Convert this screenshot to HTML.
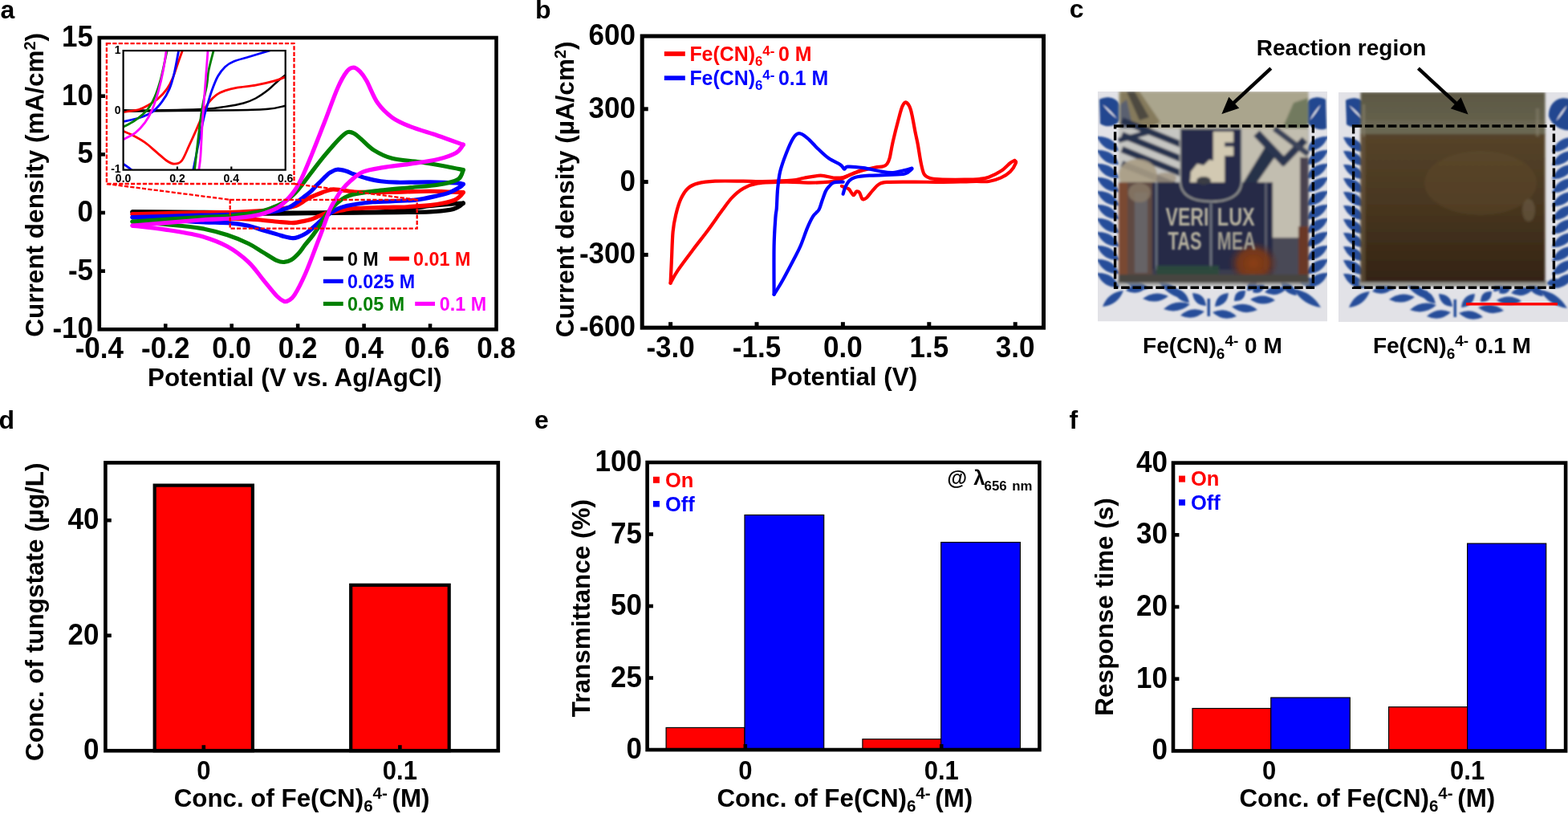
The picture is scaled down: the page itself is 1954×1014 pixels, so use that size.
<!DOCTYPE html>
<html><head><meta charset="utf-8"><title>Figure</title>
<style>html,body{margin:0;padding:0;background:#fff;}svg{display:block;}</style></head>
<body><svg width="1954" height="1014" viewBox="0 0 1954 1014" font-family="'Liberation Sans', sans-serif" font-weight="bold">
<rect x="0" y="0" width="1954" height="1014" fill="#fff"/>
<text x="0.6" y="22.7" font-size="32" text-anchor="start" fill="#000" >a</text>
<text x="667" y="22.9" font-size="32" text-anchor="start" fill="#000" >b</text>
<text x="1332.7" y="22.4" font-size="32" text-anchor="start" fill="#000" >c</text>
<text x="-1.6" y="533.9" font-size="32" text-anchor="start" fill="#000" >d</text>
<text x="666" y="534.2" font-size="32" text-anchor="start" fill="#000" >e</text>
<text x="1332.5" y="533.7" font-size="32" text-anchor="start" fill="#000" >f</text>
<line x1="206.25" y1="410.3" x2="206.25" y2="403.3" stroke="#000" stroke-width="4.6" />
<line x1="288.7" y1="410.3" x2="288.7" y2="403.3" stroke="#000" stroke-width="4.6" />
<line x1="371.15" y1="410.3" x2="371.15" y2="403.3" stroke="#000" stroke-width="4.6" />
<line x1="453.6" y1="410.3" x2="453.6" y2="403.3" stroke="#000" stroke-width="4.6" />
<line x1="536.05" y1="410.3" x2="536.05" y2="403.3" stroke="#000" stroke-width="4.6" />
<line x1="123.8" y1="119.68" x2="131" y2="119.68" stroke="#000" stroke-width="4.6" />
<line x1="123.8" y1="192.34" x2="131" y2="192.34" stroke="#000" stroke-width="4.6" />
<line x1="123.8" y1="265" x2="131" y2="265" stroke="#000" stroke-width="4.6" />
<line x1="123.8" y1="337.66" x2="131" y2="337.66" stroke="#000" stroke-width="4.6" />
<text x="123.8" y="446.3" font-size="37.8" text-anchor="middle" textLength="60.31" lengthAdjust="spacingAndGlyphs">-0.4</text>
<text x="206.25" y="446.3" font-size="37.8" text-anchor="middle" textLength="60.31" lengthAdjust="spacingAndGlyphs">-0.2</text>
<text x="288.7" y="446.3" font-size="37.8" text-anchor="middle" textLength="48.66" lengthAdjust="spacingAndGlyphs">0.0</text>
<text x="371.15" y="446.3" font-size="37.8" text-anchor="middle" textLength="48.66" lengthAdjust="spacingAndGlyphs">0.2</text>
<text x="453.6" y="446.3" font-size="37.8" text-anchor="middle" textLength="48.66" lengthAdjust="spacingAndGlyphs">0.4</text>
<text x="536.05" y="446.3" font-size="37.8" text-anchor="middle" textLength="48.66" lengthAdjust="spacingAndGlyphs">0.6</text>
<text x="618.5" y="446.3" font-size="37.8" text-anchor="middle" textLength="48.66" lengthAdjust="spacingAndGlyphs">0.8</text>
<text x="116" y="58.02" font-size="37.8" text-anchor="end" textLength="38.93" lengthAdjust="spacingAndGlyphs">15</text>
<text x="116" y="130.68" font-size="37.8" text-anchor="end" textLength="38.93" lengthAdjust="spacingAndGlyphs">10</text>
<text x="116" y="203.34" font-size="37.8" text-anchor="end" textLength="19.47" lengthAdjust="spacingAndGlyphs">5</text>
<text x="116" y="276" font-size="37.8" text-anchor="end" textLength="19.47" lengthAdjust="spacingAndGlyphs">0</text>
<text x="116" y="348.66" font-size="37.8" text-anchor="end" textLength="31.12" lengthAdjust="spacingAndGlyphs">-5</text>
<text x="116" y="421.32" font-size="37.8" text-anchor="end" textLength="50.59" lengthAdjust="spacingAndGlyphs">-10</text>
<text x="367.4" y="480.7" font-size="31.4" text-anchor="middle" fill="#000" >Potential (V vs. Ag/AgCl)</text>
<text transform="translate(54.1,230.3) rotate(-90)" font-size="31.5" text-anchor="middle">Current density (mA/cm<tspan font-size="20" dy="-10">2</tspan><tspan dy="10">)</tspan></text>
<path d="M165.02,263.84 C178.77,263.91 219.99,264.08 247.47,264.27 C274.96,264.47 309.31,264.85 329.93,265 C350.54,265.15 353.97,265.22 371.15,265.15 C388.33,265.07 415.81,264.78 432.99,264.56 C450.16,264.35 463.91,264.18 474.21,263.84 C484.52,263.5 487.27,263.35 494.82,262.53 C502.38,261.71 512.69,259.91 519.56,258.9 C526.43,257.88 529.87,257.15 536.05,256.43 C542.23,255.7 549.79,255.09 556.66,254.54 C563.53,253.98 573.84,253.33 577.27,253.08" fill="none" stroke="#000" stroke-width="5.2" stroke-linejoin="round" stroke-linecap="round" />
<path d="M577.27,253.08 C576.24,253.86 573.84,256.35 571.09,257.73 C568.34,259.11 566.63,260.35 560.79,261.37 C554.94,262.38 547.04,263.3 536.05,263.84 C525.06,264.37 515.44,264.32 494.82,264.56 C474.21,264.81 439.86,265.02 412.38,265.29 C384.89,265.56 357.41,266.21 329.93,266.16 C302.44,266.11 274.96,265.34 247.47,265 C219.99,264.66 178.77,264.27 165.02,264.13" fill="none" stroke="#000" stroke-width="5.2" stroke-linejoin="round" stroke-linecap="round" />
<path d="M165.02,266.74 C179.18,266.43 229.82,265.22 249.95,264.85 C270.08,264.49 273.86,264.9 285.81,264.56 C297.77,264.22 313.37,263.28 321.68,262.82 C329.99,262.36 330.47,262.31 335.7,261.8 C340.92,261.29 347.45,260.69 353.01,259.77 C358.58,258.85 364.97,257.71 369.09,256.28 C373.21,254.85 374.86,252.91 377.75,251.19 C380.63,249.47 382.42,247.88 386.4,245.96 C390.39,244.05 397.19,241.36 401.66,239.71 C406.12,238.07 409.28,236.57 413.2,236.08 C417.12,235.6 420.69,236.35 425.15,236.81 C429.62,237.27 435.46,238.41 440,238.84 C444.53,239.28 444.26,239.35 452.36,239.42 C460.47,239.5 474.69,239.47 488.64,239.28 C502.59,239.08 521.28,238.19 536.05,238.26 C550.82,238.33 570.4,239.47 577.27,239.71" fill="none" stroke="#ff0000" stroke-width="5.2" stroke-linejoin="round" stroke-linecap="round" />
<path d="M577.27,239.71 C576.59,240.54 574.87,243.11 573.15,244.66 C571.43,246.21 570.4,247.61 566.97,249.01 C563.53,250.42 557.69,251.97 552.54,253.08 C547.39,254.2 543.61,254.92 536.05,255.7 C528.49,256.47 516.95,257.27 507.19,257.73 C497.44,258.19 488.71,258.12 477.51,258.46 C466.31,258.8 448.03,259.28 440,259.77 C431.96,260.25 433.06,260.71 429.28,261.37 C425.5,262.02 421.03,263.04 417.32,263.69 C413.61,264.35 410.31,264.37 407.02,265.29 C403.72,266.21 401.04,267.79 397.53,269.21 C394.03,270.64 390.59,272.56 385.99,273.86 C381.39,275.17 373.9,276.46 369.91,277.06 C365.93,277.67 365.38,277.57 362.08,277.5 C358.78,277.42 356.86,277.26 350.13,276.63 C343.39,276 329.86,274.4 321.68,273.72 C313.5,273.04 310,272.8 301.07,272.56 C292.14,272.31 280.45,272.68 268.09,272.27 C255.72,271.85 244.04,270.98 226.86,270.09 C209.69,269.19 175.33,267.42 165.02,266.89" fill="none" stroke="#ff0000" stroke-width="5.2" stroke-linejoin="round" stroke-linecap="round" />
<path d="M165.02,270.67 C179.18,270.26 229.82,268.73 249.95,268.2 C270.08,267.66 273.86,267.88 285.81,267.47 C297.77,267.06 311.92,266.48 321.68,265.73 C331.44,264.98 337.96,264.2 344.35,262.97 C350.74,261.73 355.9,260.03 360.02,258.32 C364.14,256.6 366.13,254.71 369.09,252.65 C372.04,250.59 374.79,248.26 377.75,245.96 C380.7,243.66 384.14,241.24 386.82,238.84 C389.5,236.44 391.63,233.8 393.82,231.58 C396.02,229.35 398.01,227.46 400.01,225.47 C402,223.49 403.86,221.43 405.78,219.66 C407.7,217.89 409.15,216.27 411.55,214.86 C413.96,213.46 416.98,211.55 420.21,211.23 C423.44,210.92 427.42,212.01 430.93,212.98 C434.43,213.94 436.9,215.52 441.23,217.04 C445.56,218.57 451.4,220.68 456.9,222.13 C462.39,223.58 467.89,224.92 474.21,225.76 C480.53,226.61 484.52,227.02 494.82,227.22 C505.13,227.41 523.68,226.81 536.05,226.93 C548.42,227.05 562.16,227.53 569.03,227.94 C575.9,228.36 575.9,229.15 577.27,229.4" fill="none" stroke="#0000ff" stroke-width="5.2" stroke-linejoin="round" stroke-linecap="round" />
<path d="M577.27,229.4 C576.59,230 575.9,231.33 573.15,233.03 C570.4,234.72 565.18,237.83 560.79,239.57 C556.39,241.31 554.33,241.87 546.77,243.49 C539.21,245.12 529.18,247.92 515.44,249.31 C501.7,250.69 476.89,250.83 464.32,251.78 C451.74,252.72 445.42,254.17 440,254.97 C434.57,255.77 434.84,255.77 431.75,256.57 C428.66,257.37 424.74,258.32 421.44,259.77 C418.15,261.22 414.99,263.33 411.96,265.29 C408.94,267.25 406.33,269.04 403.31,271.54 C400.28,274.03 397.4,277.11 393.82,280.26 C390.25,283.41 385.65,287.89 381.87,290.43 C378.09,292.97 373.97,294.48 371.15,295.52 C368.33,296.56 367.71,296.8 364.97,296.68 C362.22,296.56 357.96,295.59 354.66,294.79 C351.36,293.99 349.71,293.24 345.18,291.88 C340.64,290.53 333.36,288.42 327.45,286.65 C321.54,284.88 316.53,282.75 309.72,281.28 C302.92,279.8 296.6,278.56 286.64,277.79 C276.68,277.01 263.35,277.3 249.95,276.63 C236.55,275.95 220.4,274.71 206.25,273.72 C192.1,272.73 171.9,271.18 165.02,270.67" fill="none" stroke="#0000ff" stroke-width="5.2" stroke-linejoin="round" stroke-linecap="round" />
<path d="M165.02,276.04 C179.18,275.15 229.82,271.81 249.95,270.67 C270.08,269.53 273.86,270.3 285.81,269.21 C297.77,268.12 312.95,265.8 321.68,264.13 C330.41,262.46 333.02,261.1 338.17,259.19 C343.32,257.27 348.13,255.31 352.6,252.65 C357.06,249.98 361.19,246.71 364.97,243.2 C368.75,239.69 369.78,238.48 375.27,231.58 C380.77,224.67 391.14,210.34 397.95,201.79 C404.75,193.24 411.28,185.73 416.09,180.28 C420.89,174.83 423.85,171.73 426.8,169.09 C429.76,166.45 431.41,164.92 433.81,164.44 C436.22,163.95 438.48,164.68 441.23,166.18 C443.98,167.68 446.18,169.96 450.3,173.45 C454.42,176.94 459.58,183.14 465.97,187.11 C472.36,191.08 479.16,194.83 488.64,197.28 C498.12,199.73 511.52,200.09 522.86,201.79 C534.19,203.48 547.59,205.81 556.66,207.45 C565.73,209.1 573.84,210.97 577.27,211.67" fill="none" stroke="#008000" stroke-width="5.2" stroke-linejoin="round" stroke-linecap="round" />
<path d="M577.27,211.67 C576.18,213.63 575.97,220.34 570.68,223.44 C565.39,226.54 555.43,228.57 545.53,230.27 C535.64,231.96 524.58,232.3 511.31,233.61 C498.05,234.92 477.85,236.66 465.97,238.12 C454.08,239.57 446.11,240.97 440,242.33 C433.88,243.69 432.37,244.68 429.28,246.25 C426.19,247.83 423.99,249.67 421.44,251.78 C418.9,253.88 416.43,256.4 414.02,258.9 C411.62,261.39 409.35,263.45 407.02,266.74 C404.68,270.04 402.89,274.23 400.01,278.66 C397.12,283.09 393,288.95 389.7,293.34 C386.4,297.72 383.17,301.21 380.22,304.96 C377.27,308.72 374.86,312.71 371.97,315.86 C369.09,319.01 365.86,322.09 362.9,323.85 C359.95,325.62 357.2,326.33 354.25,326.47 C351.29,326.62 349.64,326.79 345.18,324.73 C340.71,322.67 333.36,317.65 327.45,314.12 C321.54,310.58 317.08,307.07 309.72,303.51 C302.37,299.95 293.3,295.95 283.34,292.76 C273.38,289.56 262.8,286.53 249.95,284.33 C237.1,282.12 220.4,280.91 206.25,279.53 C192.1,278.15 171.9,276.63 165.02,276.04" fill="none" stroke="#008000" stroke-width="5.2" stroke-linejoin="round" stroke-linecap="round" />
<path d="M165.02,281.13 C179.18,279.94 229.82,275.49 249.95,274.01 C270.08,272.53 275.23,273.04 285.81,272.27 C296.4,271.49 306.08,270.5 313.44,269.36 C320.79,268.22 324.15,267.42 329.93,265.44 C335.7,263.45 342.36,261.44 348.06,257.44 C353.77,253.45 359.61,247.13 364.14,241.46 C368.68,235.79 371.15,231.75 375.27,223.44 C379.39,215.13 383.93,203.72 388.88,191.61 C393.82,179.5 399.66,164.39 404.95,150.78 C410.25,137.17 416.09,120.21 420.62,109.94 C425.15,99.67 428.87,93.47 432.16,89.16 C435.46,84.85 437.66,84.08 440.41,84.08 C443.16,84.08 445.9,86.38 448.65,89.16 C451.4,91.95 453.26,94.3 456.9,100.79 C460.54,107.28 465.21,120.53 470.5,128.11 C475.79,135.69 481.84,141.36 488.64,146.27 C495.44,151.19 501.83,153.83 511.31,157.61 C520.8,161.39 534.54,165.17 545.53,168.94 C556.53,172.72 571.98,178.39 577.27,180.28" fill="none" stroke="#ff00ff" stroke-width="5.2" stroke-linejoin="round" stroke-linecap="round" />
<path d="M577.27,180.28 C575.76,181.97 573.5,187.42 568.21,190.45 C562.91,193.48 555.01,196.17 545.53,198.44 C536.05,200.72 522.65,202.42 511.31,204.11 C499.98,205.81 487.34,206.94 477.51,208.62 C467.69,210.29 459.1,211.4 452.36,214.14 C445.63,216.87 441.64,221.14 437.11,225.04 C432.58,228.94 428.18,233.85 425.15,237.53 C422.13,241.22 421.1,243.69 418.97,247.13 C416.84,250.56 414.23,254.49 412.38,258.17 C410.52,261.85 409.63,264.47 407.84,269.21 C406.05,273.96 403.86,280.69 401.66,286.65 C399.46,292.61 398.15,295.95 394.65,304.96 C391.14,313.97 385.24,330.3 380.63,340.71 C376.03,351.13 370.53,361.86 367.03,367.45 C363.52,373.05 361.74,372.95 359.61,374.28 C357.48,375.61 356.65,376.32 354.25,375.44 C351.84,374.57 349.64,373.65 345.18,369.05 C340.71,364.45 333.36,354.93 327.45,347.83 C321.54,340.74 317.08,333.28 309.72,326.47 C302.37,319.66 293.3,312.4 283.34,307 C273.38,301.6 262.8,297.55 249.95,294.06 C237.1,290.58 220.4,288.23 206.25,286.07 C192.1,283.92 171.9,281.95 165.02,281.13" fill="none" stroke="#ff00ff" stroke-width="5.2" stroke-linejoin="round" stroke-linecap="round" />
<line x1="402.9" y1="322.2" x2="427.7" y2="322.2" stroke="#000" stroke-width="5.1"/>
<text x="432.9" y="330.6" font-size="23.3" fill="#000">0 M</text>
<line x1="485.1" y1="322.2" x2="509.9" y2="322.2" stroke="#ff0000" stroke-width="5.1"/>
<text x="515.1" y="330.6" font-size="23.3" fill="#ff0000">0.01 M</text>
<line x1="402.9" y1="350.3" x2="427.7" y2="350.3" stroke="#0000ff" stroke-width="5.1"/>
<text x="432.9" y="358.7" font-size="23.3" fill="#0000ff">0.025 M</text>
<line x1="402.9" y1="378.4" x2="427.7" y2="378.4" stroke="#008000" stroke-width="5.1"/>
<text x="432.9" y="386.8" font-size="23.3" fill="#008000">0.05 M</text>
<line x1="517.2" y1="378.4" x2="542" y2="378.4" stroke="#ff00ff" stroke-width="5.1"/>
<text x="547.8" y="386.8" font-size="23.3" fill="#ff00ff">0.1 M</text>
<rect x="286.7" y="248.8" width="233" height="35.9" fill="none" stroke="#ff0000" stroke-width="2.3" stroke-dasharray="5.2 2.2"/>
<line x1="132.9" y1="229" x2="286.7" y2="248.8" stroke="#ff0000" stroke-width="2.3" stroke-dasharray="5.2 2.2"/>
<line x1="366.5" y1="229" x2="519.7" y2="248.8" stroke="#ff0000" stroke-width="2.3" stroke-dasharray="5.2 2.2"/>
<rect x="132.9" y="54.1" width="233.6" height="174.9" fill="#fff" stroke="#ff0000" stroke-width="2.3" stroke-dasharray="5.2 2.2"/>
<clipPath id="ic"><rect x="153.6" y="63.1" width="202.1" height="148.5"/></clipPath>
<g clip-path="url(#ic)">
<path d="M153.6,137.35 C162.02,137.35 187.06,137.6 204.12,137.35 C221.18,137.1 243.24,136.61 255.99,135.86 C268.73,135.12 272.66,134.13 280.57,132.89 C288.49,131.66 297.13,130.17 303.48,128.44 C309.82,126.71 313.52,125.22 318.63,122.5 C323.74,119.78 329.52,115.69 334.12,112.1 C338.73,108.52 342.66,104.06 346.25,100.97 C349.84,97.87 352.99,95.65 355.68,93.54 C358.37,91.44 361.29,89.21 362.42,88.34" fill="none" stroke="#000" stroke-width="2.5" stroke-linejoin="round" stroke-linecap="round" />
<path d="M153.6,138.84 C164.83,138.71 197.27,138.34 220.96,138.09 C244.65,137.84 276.87,137.72 295.73,137.35 C314.59,136.98 324.13,136.79 334.12,135.86 C344.12,134.94 350.96,132.65 355.68,131.78 C360.4,130.91 361.29,130.85 362.42,130.67" fill="none" stroke="#000" stroke-width="2.5" stroke-linejoin="round" stroke-linecap="round" />
<path d="M150.23,140.32 C150.79,140.2 149.84,140.2 153.6,139.58 C157.36,138.96 167.52,138.09 172.8,136.61 C178.07,135.12 181.16,133.02 185.26,130.67 C189.36,128.32 193.57,125.84 197.38,122.5 C201.2,119.16 205.13,114.95 208.16,110.62 C211.19,106.29 213.27,101.96 215.57,96.51 C217.87,91.07 220.01,83.52 221.97,77.95 C223.94,72.38 226.12,66.56 227.36,63.1 C228.59,59.63 229.04,58.15 229.38,57.16" fill="none" stroke="#ff0000" stroke-width="2.8" stroke-linejoin="round" stroke-linecap="round" />
<path d="M362.42,92.8 C361.29,93.29 359.16,94.41 355.68,95.77 C352.2,97.13 347.71,99.23 341.53,100.97 C335.36,102.7 326.27,104.8 318.63,106.16 C311,107.53 302.07,108.02 295.73,109.13 C289.39,110.25 284.9,111.36 280.57,112.85 C276.25,114.33 273.11,115.69 269.8,118.04 C266.48,120.4 263.23,123.86 260.7,126.95 C258.18,130.05 255.76,134.5 254.64,136.61 C253.52,138.71 255.59,135.49 253.97,139.58 C252.34,143.66 247.96,154.06 244.87,161.11 C241.79,168.16 238.53,175.34 235.44,181.9 C232.36,188.46 229.38,196.75 226.35,200.46 C223.32,204.17 220.29,204.18 217.26,204.18 C214.22,204.18 211.75,202.81 208.16,200.46 C204.57,198.11 200.3,193.9 195.7,190.07 C191.1,186.23 185.6,181.03 180.54,177.44 C175.49,173.86 169.88,170.89 165.39,168.53 C160.9,166.18 156.13,164.45 153.6,163.34 C151.07,162.22 150.79,162.1 150.23,161.85" fill="none" stroke="#ff0000" stroke-width="2.8" stroke-linejoin="round" stroke-linecap="round" />
<path d="M150.23,152.2 C150.79,152.08 149.84,152.32 153.6,151.46 C157.36,150.59 166.79,148.98 172.8,147 C178.8,145.02 184.81,142.92 189.64,139.58 C194.47,136.24 198.17,131.78 201.76,126.95 C205.35,122.13 208.61,116.68 211.19,110.62 C213.77,104.56 215.35,98.49 217.26,90.57 C219.16,82.65 221.47,68.67 222.64,63.1 C223.82,57.53 224.05,58.15 224.33,57.16" fill="none" stroke="#0000ff" stroke-width="2.8" stroke-linejoin="round" stroke-linecap="round" />
<path d="M348.94,58.64 C346.7,59.39 341.76,61.12 335.47,63.1 C329.19,65.08 318.58,68.3 311.22,70.52 C303.87,72.75 296.46,74.36 291.35,76.47 C286.24,78.57 283.89,80.05 280.57,83.15 C277.26,86.24 274.29,89.95 271.48,95.03 C268.67,100.1 266.04,107.15 263.73,113.59 C261.43,120.02 259.47,127.33 257.67,133.64 C255.87,139.95 255.76,138.46 252.96,151.46 C250.15,164.45 243.08,200.59 240.83,211.6 C238.59,222.61 239.71,216.55 239.48,217.54" fill="none" stroke="#0000ff" stroke-width="2.8" stroke-linejoin="round" stroke-linecap="round" />
<path d="M167.07,217.54 C166.51,216.55 165.95,213.83 163.7,211.6 C161.46,209.37 155.85,205.66 153.6,204.18 C151.35,202.69 150.79,202.94 150.23,202.69" fill="none" stroke="#0000ff" stroke-width="2.8" stroke-linejoin="round" stroke-linecap="round" />
<path d="M150.23,159.62 C150.79,159.38 150.57,159.75 153.6,158.14 C156.63,156.53 163.42,153.56 168.42,149.97 C173.42,146.38 179.53,141.43 183.58,136.61 C187.62,131.78 189.86,127.45 192.67,121.01 C195.48,114.58 197.83,107.65 200.42,98 C203,88.34 206.65,69.91 208.16,63.1 C209.68,56.29 209.28,58.15 209.51,57.16" fill="none" stroke="#008000" stroke-width="2.8" stroke-linejoin="round" stroke-linecap="round" />
<path d="M267.44,57.16 C267.21,58.15 267.33,58.03 266.09,63.1 C264.86,68.17 261.43,80.42 260.03,87.6 C258.63,94.78 259.19,97.25 257.67,106.16 C256.16,115.07 253.46,123.49 250.94,141.06 C248.41,158.63 244.03,198.85 242.52,211.6 C241,224.35 241.95,216.55 241.84,217.54" fill="none" stroke="#008000" stroke-width="2.8" stroke-linejoin="round" stroke-linecap="round" />
<path d="M150.23,175.22 C150.79,174.97 150.57,175.34 153.6,173.73 C156.63,172.12 163.93,169.03 168.42,165.56 C172.91,162.1 177.01,157.77 180.54,152.94 C184.08,148.12 186.83,143.17 189.64,136.61 C192.44,130.05 195.08,121.76 197.38,113.59 C199.69,105.42 201.82,96.02 203.45,87.6 C205.07,79.19 206.42,68.17 207.15,63.1 C207.88,58.03 207.71,58.15 207.82,57.16" fill="none" stroke="#ff00ff" stroke-width="2.8" stroke-linejoin="round" stroke-linecap="round" />
<path d="M259.69,57.16 C259.58,58.15 259.86,52.46 259.02,63.1 C258.18,73.74 255.76,106.29 254.64,121.01 C253.52,135.74 253.07,139.21 252.28,151.46 C251.5,163.71 250.65,184.5 249.92,194.52 C249.2,204.55 248.3,207.76 247.9,211.6 C247.51,215.44 247.62,216.55 247.57,217.54" fill="none" stroke="#ff00ff" stroke-width="2.8" stroke-linejoin="round" stroke-linecap="round" />
</g>
<rect x="153.6" y="63.1" width="202.1" height="148.5" fill="none" stroke="#000" stroke-width="2.2"/>
<line x1="220.96" y1="211.6" x2="220.96" y2="207.5" stroke="#000" stroke-width="2.2"/>
<line x1="288.32" y1="211.6" x2="288.32" y2="207.5" stroke="#000" stroke-width="2.2"/>
<line x1="153.6" y1="137.35" x2="157.5" y2="137.35" stroke="#000" stroke-width="2.2"/>
<text x="153.6" y="226.8" font-size="14" text-anchor="middle">0.0</text>
<text x="220.96" y="226.8" font-size="14" text-anchor="middle">0.2</text>
<text x="288.32" y="226.8" font-size="14" text-anchor="middle">0.4</text>
<text x="355.68" y="226.8" font-size="14" text-anchor="middle">0.6</text>
<text x="150.6" y="67" font-size="14" text-anchor="end">1</text>
<text x="150.6" y="142" font-size="14" text-anchor="end">0</text>
<text x="150.6" y="215.3" font-size="14" text-anchor="end">-1</text>
<rect x="123.8" y="47" width="494.7" height="363.3" fill="none" stroke="#000" stroke-width="4.6" />
<line x1="835.6" y1="408.2" x2="835.6" y2="401.2" stroke="#000" stroke-width="5" />
<line x1="943" y1="408.2" x2="943" y2="401.2" stroke="#000" stroke-width="5" />
<line x1="1050.4" y1="408.2" x2="1050.4" y2="401.2" stroke="#000" stroke-width="5" />
<line x1="1157.8" y1="408.2" x2="1157.8" y2="401.2" stroke="#000" stroke-width="5" />
<line x1="1265.2" y1="408.2" x2="1265.2" y2="401.2" stroke="#000" stroke-width="5" />
<line x1="800.2" y1="135.8" x2="807.7" y2="135.8" stroke="#000" stroke-width="5" />
<line x1="800.2" y1="226.6" x2="807.7" y2="226.6" stroke="#000" stroke-width="5" />
<line x1="800.2" y1="317.4" x2="807.7" y2="317.4" stroke="#000" stroke-width="5" />
<text x="835.6" y="444.9" font-size="37.8" text-anchor="middle" textLength="60.31" lengthAdjust="spacingAndGlyphs">-3.0</text>
<text x="943" y="444.9" font-size="37.8" text-anchor="middle" textLength="60.31" lengthAdjust="spacingAndGlyphs">-1.5</text>
<text x="1050.4" y="444.9" font-size="37.8" text-anchor="middle" textLength="48.66" lengthAdjust="spacingAndGlyphs">0.0</text>
<text x="1157.8" y="444.9" font-size="37.8" text-anchor="middle" textLength="48.66" lengthAdjust="spacingAndGlyphs">1.5</text>
<text x="1265.2" y="444.9" font-size="37.8" text-anchor="middle" textLength="48.66" lengthAdjust="spacingAndGlyphs">3.0</text>
<text x="792" y="56" font-size="37.8" text-anchor="end" textLength="58.4" lengthAdjust="spacingAndGlyphs">600</text>
<text x="792" y="146.8" font-size="37.8" text-anchor="end" textLength="58.4" lengthAdjust="spacingAndGlyphs">300</text>
<text x="792" y="237.6" font-size="37.8" text-anchor="end" textLength="19.47" lengthAdjust="spacingAndGlyphs">0</text>
<text x="792" y="328.4" font-size="37.8" text-anchor="end" textLength="70.05" lengthAdjust="spacingAndGlyphs">-300</text>
<text x="792" y="419.2" font-size="37.8" text-anchor="end" textLength="70.05" lengthAdjust="spacingAndGlyphs">-600</text>
<text x="1051.6" y="480.3" font-size="31.4" text-anchor="middle" fill="#000" >Potential (V)</text>
<text transform="translate(714.7,235.9) rotate(-90)" font-size="31.5" text-anchor="middle">Current density (µA/cm<tspan font-size="20" dy="-10">2</tspan><tspan dy="10">)</tspan></text>
<line x1="827.8" y1="67" x2="853.8" y2="67" stroke="#f00" stroke-width="5.7" />
<line x1="827.8" y1="97.2" x2="853.8" y2="97.2" stroke="#00f" stroke-width="5.7" />
<text x="859.4" y="75.8" font-size="24.9" fill="#f00">Fe(CN)<tspan font-size="16.8" dy="5.9">6</tspan><tspan font-size="16.8" dy="-12.8">4- </tspan><tspan dy="6.9">0 M</tspan></text>
<text x="859.4" y="105.9" font-size="24.9" fill="#00f">Fe(CN)<tspan font-size="16.8" dy="5.9">6</tspan><tspan font-size="16.8" dy="-12.8">4- </tspan><tspan dy="6.9">0.1 M</tspan></text>
<path d="M1048.9,231.9 C1049.58,232.17 1051.52,232.9 1053,233.5 C1054.48,234.1 1056.47,234.42 1057.8,235.5 C1059.13,236.58 1059.98,238.72 1061,240 C1062.02,241.28 1062.92,243.42 1063.9,243.2 C1064.88,242.98 1066.05,239.48 1066.9,238.7 C1067.75,237.92 1068.27,238.25 1069,238.5 C1069.73,238.75 1070.42,238.68 1071.3,240.2 C1072.18,241.72 1073.35,246.3 1074.3,247.6 C1075.25,248.9 1076.02,248.25 1077,248 C1077.98,247.75 1078.43,247.9 1080.2,246.1 C1081.97,244.3 1085.13,239.92 1087.6,237.2 C1090.07,234.48 1092.05,231.52 1095,229.8 C1097.95,228.08 1097.8,227.43 1105.3,226.9 C1112.8,226.37 1129.22,226.6 1140,226.6 C1150.78,226.6 1160,226.93 1170,226.9 C1180,226.87 1192.22,226.57 1200,226.4 C1207.78,226.23 1211.35,225.97 1216.7,225.9 C1222.05,225.83 1226.98,226.75 1232.1,226 C1237.22,225.25 1242.92,223.43 1247.4,221.4 C1251.88,219.37 1255.92,216.87 1259,213.8 C1262.08,210.73 1265.02,205.3 1265.9,203 C1266.78,200.7 1264.57,200.5 1264.3,200" fill="none" stroke="#ff0000" stroke-width="4.2" stroke-linejoin="round" stroke-linecap="round" />
<path d="M1264.3,200 C1263.42,200.5 1261.82,200.83 1259,203 C1256.18,205.17 1251.88,210.05 1247.4,213 C1242.92,215.95 1236.57,219.03 1232.1,220.7 C1227.63,222.37 1225.72,222.5 1220.6,223 C1215.48,223.5 1209.72,223.63 1201.4,223.7 C1193.08,223.77 1177.98,223.78 1170.7,223.4 C1163.42,223.02 1160.9,222.5 1157.7,221.4 C1154.5,220.3 1153.17,219.87 1151.5,216.8 C1149.83,213.73 1148.98,209.13 1147.7,203 C1146.42,196.87 1144.93,186.13 1143.8,180 C1142.67,173.87 1142.38,173.43 1140.9,166.2 C1139.42,158.97 1136.88,143.05 1134.9,136.6 C1132.92,130.15 1130.72,128.23 1129,127.5 C1127.28,126.77 1126.08,128.95 1124.6,132.2 C1123.12,135.45 1122.08,139.6 1120.1,147 C1118.12,154.4 1114.62,168.27 1112.7,176.6 C1110.78,184.93 1109.82,192.4 1108.6,197 C1107.38,201.6 1106.75,202.48 1105.4,204.2 C1104.05,205.92 1102.97,206.57 1100.5,207.3 C1098.03,208.03 1094.72,207.8 1090.6,208.6 C1086.48,209.4 1080.5,210.78 1075.8,212.1 C1071.1,213.42 1066.6,215.02 1062.4,216.5 C1058.2,217.98 1054.53,220.17 1050.6,221 C1046.67,221.83 1043.48,221.88 1038.8,221.5 C1034.12,221.12 1028.67,218.67 1022.5,218.7 C1016.33,218.73 1007.72,220.7 1001.8,221.7 C995.88,222.7 995.63,223.97 987,224.7 C978.37,225.43 960.08,225.93 950,226.1 C939.92,226.27 936.33,225.77 926.5,225.7 C916.67,225.63 900.47,225.25 891,225.7 C881.53,226.15 875.32,226.92 869.7,228.4 C864.08,229.88 860.85,231.35 857.3,234.6 C853.75,237.85 850.92,242.43 848.4,247.9 C845.88,253.37 843.83,260.6 842.2,267.4 C840.57,274.2 839.48,279.23 838.6,288.7 C837.72,298.17 837.4,313.55 836.9,324.2 C836.4,334.85 835.82,347.87 835.6,352.6" fill="none" stroke="#ff0000" stroke-width="4.2" stroke-linejoin="round" stroke-linecap="round" />
<path d="M835.6,352.6 C837.13,349.93 840,343.7 844.8,336.6 C849.6,329.5 858.18,318.27 864.4,310 C870.62,301.73 876.18,294.98 882.1,287 C888.02,279.02 894.87,268.92 899.9,262.1 C904.93,255.28 907.87,250.68 912.3,246.1 C916.73,241.52 921.18,237.55 926.5,234.6 C931.82,231.65 935.33,229.73 944.2,228.4 C953.07,227.07 968.87,226.73 979.7,226.6 C990.53,226.47 1000.33,227.6 1009.2,227.6 C1018.07,227.6 1026.73,227.22 1032.9,226.6 C1039.07,225.98 1041.75,225.38 1046.2,223.9 C1050.65,222.42 1055.3,219.62 1059.6,217.7 C1063.9,215.78 1069.93,213.28 1072,212.4" fill="none" stroke="#ff0000" stroke-width="4.2" stroke-linejoin="round" stroke-linecap="round" />
<path d="M1050.6,241.7 C1050.83,240.92 1051.5,238.48 1052,237 C1052.5,235.52 1052.6,234.73 1053.6,232.8 C1054.6,230.87 1056.03,227.37 1058,225.4 C1059.97,223.43 1061.2,222.12 1065.4,221 C1069.6,219.88 1076.55,219.2 1083.2,218.7 C1089.85,218.2 1097.92,218.37 1105.3,218 C1112.68,217.63 1122.32,217.73 1127.5,216.5 C1132.68,215.27 1134.92,211.58 1136.4,210.6" fill="none" stroke="#0000ff" stroke-width="4.2" stroke-linejoin="round" stroke-linecap="round" />
<path d="M1136.4,209.6 C1134.92,210.02 1131.45,211.2 1127.5,212.1 C1123.55,213 1117.62,214.75 1112.7,215 C1107.78,215.25 1104.15,214.58 1098,213.6 C1091.85,212.62 1082.72,210.1 1075.8,209.1 C1068.88,208.1 1060.45,207.35 1056.5,207.6 C1052.55,207.85 1053.58,210.97 1052.1,210.6 C1050.62,210.23 1050.8,207.62 1047.6,205.4 C1044.4,203.18 1037.58,200.62 1032.9,197.3 C1028.22,193.98 1023.95,189.7 1019.5,185.5 C1015.05,181.3 1010.13,175.32 1006.2,172.1 C1002.27,168.88 998.85,166.2 995.9,166.2 C992.95,166.2 991.22,167.9 988.5,172.1 C985.78,176.3 982.32,184.48 979.6,191.4 C976.88,198.32 973.95,206.25 972.2,213.6 C970.45,220.95 969.83,227.87 969.1,235.5 C968.37,243.13 968.25,253.48 967.8,259.4 C967.35,265.32 966.93,263.15 966.4,271 C965.87,278.85 964.9,290.53 964.6,306.5 C964.3,322.47 964.6,356.75 964.6,366.8" fill="none" stroke="#0000ff" stroke-width="4.2" stroke-linejoin="round" stroke-linecap="round" />
<path d="M964.6,366.8 C966.23,364.13 970.4,357.9 974.4,350.8 C978.4,343.7 984.75,331.58 988.6,324.2 C992.45,316.82 994.55,313.3 997.5,306.5 C1000.45,299.7 1003.65,289.62 1006.3,283.4 C1008.95,277.18 1011.03,272.9 1013.4,269.2 C1015.77,265.5 1018.65,264.4 1020.5,261.2 C1022.35,258 1023.08,253.87 1024.5,250 C1025.92,246.13 1027.58,240.92 1029,238 C1030.42,235.08 1031.37,234.25 1033,232.5 C1034.63,230.75 1035.85,228.48 1038.8,227.5 C1041.75,226.52 1048.72,226.75 1050.7,226.6" fill="none" stroke="#0000ff" stroke-width="4.2" stroke-linejoin="round" stroke-linecap="round" />
<rect x="800.2" y="45" width="500.3" height="363.2" fill="none" stroke="#000" stroke-width="5" />
<filter id="bl1" x="-5%" y="-5%" width="110%" height="110%"><feGaussianBlur stdDeviation="1.1"/></filter>
<filter id="bl2" x="-2%" y="-2%" width="104%" height="104%"><feGaussianBlur stdDeviation="1.5"/></filter>
<filter id="bl3" x="-5%" y="-5%" width="110%" height="110%"><feGaussianBlur stdDeviation="1.0"/></filter>
<clipPath id="p1c"><rect x="1368" y="114" width="286" height="286.5"/></clipPath>
<g clip-path="url(#p1c)">
<rect x="1368" y="114" width="286" height="286.5" fill="#e2e2e7"/>
<g filter="url(#bl1)">
<path d="M1374,382 Q1393.1,379.93 1400,362 Q1380.9,364.07 1374,382Z" fill="#284e9a"/>
<path d="M1403,362 Q1418.32,369.33 1430,357 Q1414.68,349.67 1403,362Z" fill="#284e9a"/>
<path d="M1424,372 Q1440.93,380.46 1456,369 Q1439.07,360.54 1424,372Z" fill="#284e9a"/>
<path d="M1450,385 Q1468.29,391.84 1483,379 Q1464.71,372.16 1450,385Z" fill="#284e9a"/>
<path d="M1462,359 Q1465.31,375.43 1482,377 Q1478.69,360.57 1462,359Z" fill="#284e9a"/>
<path d="M1471,393 Q1487.64,400.36 1501,388 Q1484.36,380.64 1471,393Z" fill="#284e9a"/>
<path d="M1486,365 Q1487.65,380.28 1503,381 Q1501.35,365.72 1486,365Z" fill="#284e9a"/>
<path d="M1514,382 Q1529.57,380.57 1531,365 Q1515.43,366.43 1514,382Z" fill="#284e9a"/>
<path d="M1511,389 Q1524.36,401.36 1541,394 Q1527.64,381.64 1511,389Z" fill="#284e9a"/>
<path d="M1535,382 Q1549.76,393.92 1567,386 Q1552.24,374.08 1535,382Z" fill="#284e9a"/>
<path d="M1538,375 Q1551.8,375.83 1552,362 Q1538.2,361.17 1538,375Z" fill="#284e9a"/>
<path d="M1558,373 Q1573.18,383.49 1589,374 Q1573.82,363.51 1558,373Z" fill="#284e9a"/>
<path d="M1561,364 Q1573.64,368.07 1576,355 Q1563.36,350.93 1561,364Z" fill="#284e9a"/>
<path d="M1612,360 Q1623.4,379.78 1646,383 Q1634.6,363.22 1612,360Z" fill="#284e9a"/>
<path d="M1576,364 Q1590.97,371.89 1603,360 Q1588.03,352.11 1576,364Z" fill="#284e9a"/>
<path d="M1596,350 Q1599.31,366.43 1616,368 Q1612.69,351.57 1596,350Z" fill="#284e9a"/>
<path d="M1443,349 Q1454.07,368.94 1476.6,372.5 Q1465.53,352.56 1443,349Z" fill="#284e9a"/>
<path d="M1405,352 Q1415.48,365.29 1431.3,359.3 Q1420.82,346.01 1405,352Z" fill="#284e9a"/>
<path d="M1397.6,349.1 Q1411.89,357.59 1424,346.2 Q1409.71,337.71 1397.6,349.1Z" fill="#284e9a"/>
<path d="M1554.2,362.3 Q1567.53,362.33 1565.9,349.1 Q1552.57,349.07 1554.2,362.3Z" fill="#284e9a"/>
<path d="M1620,352 Q1631,360.95 1640,350 Q1629,341.05 1620,352Z" fill="#284e9a"/>
<rect x="1504.5" y="372" width="3.5" height="22" fill="#284e9a"/>
<path d="M1370,124 C1384,116 1400,126 1399,144 C1394,158 1378,160 1371,154Z" fill="#224690"/>
<path d="M1374,130 Q1381.3,140.7 1392,148 Q1384.7,137.3 1374,130Z" fill="#d8dce6"/>
<path d="M1395,188 Q1387.49,168.91 1367,170 Q1374.51,189.09 1395,188Z" fill="#284e9a"/>
<path d="M1395,205 Q1387.49,185.91 1367,187 Q1374.51,206.09 1395,205Z" fill="#284e9a"/>
<path d="M1395,222 Q1387.49,202.91 1367,204 Q1374.51,223.09 1395,222Z" fill="#284e9a"/>
<path d="M1395,239 Q1387.49,219.91 1367,221 Q1374.51,240.09 1395,239Z" fill="#284e9a"/>
<path d="M1395,256 Q1387.49,236.91 1367,238 Q1374.51,257.09 1395,256Z" fill="#284e9a"/>
<path d="M1395,273 Q1387.49,253.91 1367,255 Q1374.51,274.09 1395,273Z" fill="#284e9a"/>
<path d="M1395,290 Q1387.49,270.91 1367,272 Q1374.51,291.09 1395,290Z" fill="#284e9a"/>
<path d="M1395,307 Q1387.49,287.91 1367,289 Q1374.51,308.09 1395,307Z" fill="#284e9a"/>
<path d="M1395,324 Q1387.49,304.91 1367,306 Q1374.51,325.09 1395,324Z" fill="#284e9a"/>
<path d="M1395,341 Q1387.49,321.91 1367,323 Q1374.51,342.09 1395,341Z" fill="#284e9a"/>
<path d="M1395,358 Q1387.49,338.91 1367,340 Q1374.51,359.09 1395,358Z" fill="#284e9a"/>
<path d="M1652,124 C1638,116 1622,126 1623,144 C1628,158 1644,164 1653,160Z" fill="#224690"/>
<path d="M1646,130 Q1637.03,138.62 1632,150 Q1640.97,141.38 1646,130Z" fill="#d8dce6"/>
<path d="M1627,188 Q1647.49,189.09 1655,170 Q1634.51,168.91 1627,188Z" fill="#284e9a"/>
<path d="M1627,205 Q1647.49,206.09 1655,187 Q1634.51,185.91 1627,205Z" fill="#284e9a"/>
<path d="M1627,222 Q1647.49,223.09 1655,204 Q1634.51,202.91 1627,222Z" fill="#284e9a"/>
<path d="M1627,239 Q1647.49,240.09 1655,221 Q1634.51,219.91 1627,239Z" fill="#284e9a"/>
<path d="M1627,256 Q1647.49,257.09 1655,238 Q1634.51,236.91 1627,256Z" fill="#284e9a"/>
<path d="M1627,273 Q1647.49,274.09 1655,255 Q1634.51,253.91 1627,273Z" fill="#284e9a"/>
<path d="M1627,290 Q1647.49,291.09 1655,272 Q1634.51,270.91 1627,290Z" fill="#284e9a"/>
<path d="M1627,307 Q1647.49,308.09 1655,289 Q1634.51,287.91 1627,307Z" fill="#284e9a"/>
<path d="M1627,324 Q1647.49,325.09 1655,306 Q1634.51,304.91 1627,324Z" fill="#284e9a"/>
<path d="M1627,341 Q1647.49,342.09 1655,323 Q1634.51,321.91 1627,341Z" fill="#284e9a"/>
<path d="M1627,358 Q1647.49,359.09 1655,340 Q1634.51,338.91 1627,358Z" fill="#284e9a"/>
</g>
<g filter="url(#bl2)">
<rect x="1392" y="349" width="240.5" height="7" fill="#8c8c88" opacity="0.7"/>
<rect x="1394" y="114" width="236.5" height="48" fill="#aaa58d"/>
<path d="M1396,114 L1420,114 L1446,152 L1432,160 L1396,160Z" fill="#857a5c"/>
<path d="M1404,114 L1414,114 L1432,146 L1420,150Z" fill="#4e4a40"/>
<path d="M1396,130 L1404,124 L1412,160 L1396,160Z" fill="#5a6070"/>
<path d="M1598,160 L1612,128 L1630,122 L1630,162Z" fill="#727a5e"/>
<rect x="1394" y="160" width="236.5" height="192" fill="#3a3e50"/>
<rect x="1394" y="160" width="78" height="68" fill="#c6c6c2"/>
<line x1="1398" y1="150" x2="1472" y2="180" stroke="#26304e" stroke-width="8"/>
<line x1="1398" y1="168" x2="1472" y2="198" stroke="#26304e" stroke-width="8"/>
<line x1="1398" y1="186" x2="1472" y2="216" stroke="#26304e" stroke-width="8"/>
<line x1="1398" y1="204" x2="1472" y2="234" stroke="#26304e" stroke-width="8"/>
<line x1="1394" y1="175" x2="1430" y2="165" stroke="#26304e" stroke-width="6"/>
<ellipse cx="1418" cy="218" rx="24" ry="20" fill="#a89c84" opacity="0.9"/>
<ellipse cx="1452" cy="222" rx="14" ry="7" fill="#a09480" opacity="0.8"/>
<rect x="1547" y="160" width="83.5" height="140" fill="#c2beb0"/>
<path d="M1549,228 L1566,228 L1594,188 L1579,179Z" fill="#283048"/>
<line x1="1566" y1="166" x2="1602" y2="204" stroke="#2c3450" stroke-width="10"/>
<line x1="1597" y1="204" x2="1626" y2="174" stroke="#2c3450" stroke-width="9"/>
<line x1="1588" y1="160" x2="1630" y2="192" stroke="#3a4258" stroke-width="7"/>
<rect x="1620" y="196" width="10.5" height="156" fill="#4a4250"/>
<rect x="1586" y="296" width="38" height="56" fill="#4a4a56"/>
<rect x="1618" y="282" width="12.5" height="70" fill="#6a3826"/>
<rect x="1436" y="227" width="150" height="109" fill="#262c46"/>
<line x1="1441" y1="227" x2="1441" y2="336" stroke="#8a8e98" stroke-width="1.6"/>
<line x1="1577.5" y1="227" x2="1577.5" y2="336" stroke="#7a7e88" stroke-width="1.6"/>
<line x1="1509" y1="253" x2="1509" y2="336" stroke="#9a9ea6" stroke-width="1.5"/>
<path d="M1470.6,160 L1470.6,226 Q1472,251 1509,251 Q1546,251 1547.4,226 L1547.4,160Z" fill="#262c48" stroke="#b4b4ac" stroke-width="1.6"/>
<path d="M1483,227 L1484,214 L1492,204 L1500,206 L1507,199 L1512,200 L1512,164 L1537,164 L1537,177.5 L1526,177.5 L1526,182.6 L1537,182.6 L1537,194 L1526,194 L1526,227Z" fill="#d2c9b2"/>
<ellipse cx="1500" cy="225" rx="9" ry="5" fill="#3a3c44"/>
<rect x="1394" y="227" width="42" height="125" fill="#5e4a42"/>
<rect x="1394" y="227" width="11" height="125" fill="#7a4a32"/>
<rect x="1414" y="240" width="16" height="100" fill="#666466"/>
<ellipse cx="1420" cy="240" rx="14" ry="12" fill="#8a7a68" opacity="0.8"/>
<rect x="1441" y="331" width="78" height="11" fill="#2c4a3c" opacity="0.9"/>
<radialGradient id="orb"><stop offset="0" stop-color="#8c3e12"/><stop offset="0.6" stop-color="#7a3818" stop-opacity="0.9"/><stop offset="1" stop-color="#4a2a38" stop-opacity="0"/></radialGradient>
<ellipse cx="1562" cy="328" rx="32" ry="28" fill="url(#orb)"/>
<rect x="1394" y="342" width="236.5" height="10" fill="#46443f"/>
</g>
<g filter="url(#bl3)" fill="#b5b09e" font-family="'Liberation Sans', sans-serif" font-weight="bold" font-size="32">
<text x="1452.5" y="281.2" textLength="54" lengthAdjust="spacingAndGlyphs">VERI</text>
<text x="1516.8" y="281.2" textLength="47" lengthAdjust="spacingAndGlyphs">LUX</text>
<text x="1455.6" y="310.7" textLength="42" lengthAdjust="spacingAndGlyphs">TAS</text>
<text x="1516.8" y="310.7" textLength="48" lengthAdjust="spacingAndGlyphs" fill="#a29e90">MEA</text>
</g>
</g>
<clipPath id="p2c"><rect x="1668" y="115" width="286" height="286"/></clipPath>
<g clip-path="url(#p2c)">
<rect x="1668" y="115" width="286" height="286" fill="#e2e2e7"/>
<g filter="url(#bl1)">
<path d="M1681,383 Q1700.1,380.93 1707,363 Q1687.9,365.07 1681,383Z" fill="#284e9a"/>
<path d="M1710,363 Q1725.32,370.33 1737,358 Q1721.68,350.67 1710,363Z" fill="#284e9a"/>
<path d="M1731,373 Q1747.93,381.46 1763,370 Q1746.07,361.54 1731,373Z" fill="#284e9a"/>
<path d="M1757,386 Q1775.29,392.84 1790,380 Q1771.71,373.16 1757,386Z" fill="#284e9a"/>
<path d="M1769,360 Q1772.31,376.43 1789,378 Q1785.69,361.57 1769,360Z" fill="#284e9a"/>
<path d="M1778,394 Q1794.64,401.36 1808,389 Q1791.36,381.64 1778,394Z" fill="#284e9a"/>
<path d="M1793,366 Q1794.65,381.28 1810,382 Q1808.35,366.72 1793,366Z" fill="#284e9a"/>
<path d="M1821,383 Q1836.57,381.57 1838,366 Q1822.43,367.43 1821,383Z" fill="#284e9a"/>
<path d="M1818,390 Q1831.36,402.36 1848,395 Q1834.64,382.64 1818,390Z" fill="#284e9a"/>
<path d="M1842,383 Q1856.76,394.92 1874,387 Q1859.24,375.08 1842,383Z" fill="#284e9a"/>
<path d="M1845,376 Q1858.8,376.83 1859,363 Q1845.2,362.17 1845,376Z" fill="#284e9a"/>
<path d="M1865,374 Q1880.18,384.49 1896,375 Q1880.82,364.51 1865,374Z" fill="#284e9a"/>
<path d="M1868,365 Q1880.64,369.07 1883,356 Q1870.36,351.93 1868,365Z" fill="#284e9a"/>
<path d="M1919,361 Q1930.4,380.78 1953,384 Q1941.6,364.22 1919,361Z" fill="#284e9a"/>
<path d="M1883,365 Q1897.97,372.89 1910,361 Q1895.03,353.11 1883,365Z" fill="#284e9a"/>
<path d="M1903,351 Q1906.31,367.43 1923,369 Q1919.69,352.57 1903,351Z" fill="#284e9a"/>
<path d="M1750,350 Q1761.07,369.94 1783.6,373.5 Q1772.53,353.56 1750,350Z" fill="#284e9a"/>
<path d="M1712,353 Q1722.48,366.29 1738.3,360.3 Q1727.82,347.01 1712,353Z" fill="#284e9a"/>
<path d="M1704.6,350.1 Q1718.89,358.59 1731,347.2 Q1716.71,338.71 1704.6,350.1Z" fill="#284e9a"/>
<path d="M1861.2,363.3 Q1874.53,363.33 1872.9,350.1 Q1859.57,350.07 1861.2,363.3Z" fill="#284e9a"/>
<path d="M1927,353 Q1938,361.95 1947,351 Q1936,342.05 1927,353Z" fill="#284e9a"/>
<rect x="1811.5" y="373" width="3.5" height="22" fill="#284e9a"/>
<path d="M1677,125 C1691,117 1707,127 1706,145 C1701,159 1685,161 1678,155Z" fill="#224690"/>
<path d="M1681,131 Q1688.3,141.7 1699,149 Q1691.7,138.3 1681,131Z" fill="#d8dce6"/>
<path d="M1702,189 Q1694.49,169.91 1674,171 Q1681.51,190.09 1702,189Z" fill="#284e9a"/>
<path d="M1702,206 Q1694.49,186.91 1674,188 Q1681.51,207.09 1702,206Z" fill="#284e9a"/>
<path d="M1702,223 Q1694.49,203.91 1674,205 Q1681.51,224.09 1702,223Z" fill="#284e9a"/>
<path d="M1702,240 Q1694.49,220.91 1674,222 Q1681.51,241.09 1702,240Z" fill="#284e9a"/>
<path d="M1702,257 Q1694.49,237.91 1674,239 Q1681.51,258.09 1702,257Z" fill="#284e9a"/>
<path d="M1702,274 Q1694.49,254.91 1674,256 Q1681.51,275.09 1702,274Z" fill="#284e9a"/>
<path d="M1702,291 Q1694.49,271.91 1674,273 Q1681.51,292.09 1702,291Z" fill="#284e9a"/>
<path d="M1702,308 Q1694.49,288.91 1674,290 Q1681.51,309.09 1702,308Z" fill="#284e9a"/>
<path d="M1702,325 Q1694.49,305.91 1674,307 Q1681.51,326.09 1702,325Z" fill="#284e9a"/>
<path d="M1702,342 Q1694.49,322.91 1674,324 Q1681.51,343.09 1702,342Z" fill="#284e9a"/>
<path d="M1702,359 Q1694.49,339.91 1674,341 Q1681.51,360.09 1702,359Z" fill="#284e9a"/>
<path d="M1959,125 C1945,117 1929,127 1930,145 C1935,159 1951,165 1960,161Z" fill="#224690"/>
<path d="M1953,131 Q1944.03,139.62 1939,151 Q1947.97,142.38 1953,131Z" fill="#d8dce6"/>
<path d="M1934,189 Q1954.49,190.09 1962,171 Q1941.51,169.91 1934,189Z" fill="#284e9a"/>
<path d="M1934,206 Q1954.49,207.09 1962,188 Q1941.51,186.91 1934,206Z" fill="#284e9a"/>
<path d="M1934,223 Q1954.49,224.09 1962,205 Q1941.51,203.91 1934,223Z" fill="#284e9a"/>
<path d="M1934,240 Q1954.49,241.09 1962,222 Q1941.51,220.91 1934,240Z" fill="#284e9a"/>
<path d="M1934,257 Q1954.49,258.09 1962,239 Q1941.51,237.91 1934,257Z" fill="#284e9a"/>
<path d="M1934,274 Q1954.49,275.09 1962,256 Q1941.51,254.91 1934,274Z" fill="#284e9a"/>
<path d="M1934,291 Q1954.49,292.09 1962,273 Q1941.51,271.91 1934,291Z" fill="#284e9a"/>
<path d="M1934,308 Q1954.49,309.09 1962,290 Q1941.51,288.91 1934,308Z" fill="#284e9a"/>
<path d="M1934,325 Q1954.49,326.09 1962,307 Q1941.51,305.91 1934,325Z" fill="#284e9a"/>
<path d="M1934,342 Q1954.49,343.09 1962,324 Q1941.51,322.91 1934,342Z" fill="#284e9a"/>
<path d="M1934,359 Q1954.49,360.09 1962,341 Q1941.51,339.91 1934,359Z" fill="#284e9a"/>
</g>
<linearGradient id="g2top" x1="0" y1="0" x2="0" y2="1"><stop offset="0" stop-color="#5c5844"/><stop offset="1" stop-color="#67634e"/></linearGradient>
<linearGradient id="g2body" x1="0" y1="0" x2="0" y2="1"><stop offset="0" stop-color="#554329"/><stop offset="0.45" stop-color="#493720"/><stop offset="1" stop-color="#332313"/></linearGradient>
<g filter="url(#bl2)">
<rect x="1693.5" y="349" width="234.0" height="8" fill="#9a9a94"/>
<rect x="1695.5" y="115" width="230.0" height="53.5" fill="url(#g2top)"/>
<rect x="1695.5" y="150" width="230.0" height="17" fill="#6e6b56" opacity="0.6"/>
<rect x="1695.5" y="167" width="230.0" height="184.5" fill="url(#g2body)"/>
<ellipse cx="1845" cy="228" rx="70" ry="40" fill="#6e5834" opacity="0.25"/>
<ellipse cx="1905" cy="262" rx="8" ry="14" fill="#7a6c54" opacity="0.45"/>
<rect x="1695.5" y="168.5" width="6" height="183" fill="#6a5a44" opacity="0.6"/>
<rect x="1698" y="130" width="3" height="40" fill="#8a8470" opacity="0.6"/>
<rect x="1914" y="135" width="4" height="35" fill="#8a8470" opacity="0.5"/>
</g>
</g>
<rect x="1389.6" y="157" width="246.8" height="201.3" fill="none" stroke="#000" stroke-width="3.4" stroke-dasharray="10.6 3.8"/>
<rect x="1686.6" y="157" width="249.8" height="201.3" fill="none" stroke="#000" stroke-width="3.4" stroke-dasharray="10.6 3.8"/>
<line x1="1827" y1="378.7" x2="1941" y2="378.7" stroke="#ff0000" stroke-width="3.4"/>
<line x1="1583.8" y1="85.2" x2="1536.34" y2="129.19" stroke="#000" stroke-width="4.4"/><path d="M1522.4,142.1 L1531.35,120.86 L1544.26,134.79Z" fill="#000"/>
<line x1="1767.4" y1="85.2" x2="1815.63" y2="129.63" stroke="#000" stroke-width="4.4"/><path d="M1829.6,142.5 L1807.72,135.26 L1820.59,121.28Z" fill="#000"/>
<text x="1671.6" y="68.7" font-size="28" text-anchor="middle" fill="#000" >Reaction region</text>
<rect x="192.7" y="604.6" width="122.2" height="330.6" fill="#f00" stroke="#000" stroke-width="4.2" />
<rect x="437.2" y="728.82" width="122.5" height="206.38" fill="#f00" stroke="#000" stroke-width="4.2" />
<text x="123.5" y="946.2" font-size="37.8" text-anchor="end" textLength="19.47" lengthAdjust="spacingAndGlyphs">0</text>
<line x1="131.4" y1="791.68" x2="138.8" y2="791.68" stroke="#000" stroke-width="4.6" />
<text x="123.5" y="802.68" font-size="37.8" text-anchor="end" textLength="38.93" lengthAdjust="spacingAndGlyphs">20</text>
<line x1="131.4" y1="648.16" x2="138.8" y2="648.16" stroke="#000" stroke-width="4.6" />
<text x="123.5" y="659.16" font-size="37.8" text-anchor="end" textLength="38.93" lengthAdjust="spacingAndGlyphs">40</text>
<line x1="253.8" y1="935.2" x2="253.8" y2="928.2" stroke="#000" stroke-width="4.6" />
<line x1="498.4" y1="935.2" x2="498.4" y2="928.2" stroke="#000" stroke-width="4.6" />
<text x="253.8" y="971.3" font-size="33.02" text-anchor="middle" textLength="17.24" lengthAdjust="spacingAndGlyphs">0</text>
<text x="498.4" y="971.3" font-size="33.02" text-anchor="middle" textLength="43.09" lengthAdjust="spacingAndGlyphs">0.1</text>
<rect x="131.4" y="576.4" width="489.4" height="358.8" fill="none" stroke="#000" stroke-width="4.6" />
<rect x="830.1" y="906.43" width="97.9" height="27.57" fill="#f00" stroke="#000" stroke-width="1.2" />
<rect x="928" y="641.51" width="98.7" height="292.49" fill="#00f" stroke="#000" stroke-width="1.2" />
<rect x="1074.9" y="920.75" width="97.8" height="13.25" fill="#f00" stroke="#000" stroke-width="1.2" />
<rect x="1172.7" y="675.52" width="98.7" height="258.48" fill="#00f" stroke="#000" stroke-width="1.2" />
<text x="800" y="945" font-size="37.8" text-anchor="end" textLength="19.47" lengthAdjust="spacingAndGlyphs">0</text>
<line x1="806.6" y1="844.5" x2="814" y2="844.5" stroke="#000" stroke-width="4.6" />
<text x="800" y="855.5" font-size="37.8" text-anchor="end" textLength="38.93" lengthAdjust="spacingAndGlyphs">25</text>
<line x1="806.6" y1="755" x2="814" y2="755" stroke="#000" stroke-width="4.6" />
<text x="800" y="766" font-size="37.8" text-anchor="end" textLength="38.93" lengthAdjust="spacingAndGlyphs">50</text>
<line x1="806.6" y1="665.5" x2="814" y2="665.5" stroke="#000" stroke-width="4.6" />
<text x="800" y="676.5" font-size="37.8" text-anchor="end" textLength="38.93" lengthAdjust="spacingAndGlyphs">75</text>
<text x="800" y="587" font-size="37.8" text-anchor="end" textLength="58.4" lengthAdjust="spacingAndGlyphs">100</text>
<line x1="928.8" y1="934" x2="928.8" y2="927" stroke="#000" stroke-width="4.6" />
<line x1="1173.2" y1="934" x2="1173.2" y2="927" stroke="#000" stroke-width="4.6" />
<text x="928.8" y="971.3" font-size="33.02" text-anchor="middle" textLength="17.24" lengthAdjust="spacingAndGlyphs">0</text>
<text x="1173.2" y="971.3" font-size="33.02" text-anchor="middle" textLength="43.09" lengthAdjust="spacingAndGlyphs">0.1</text>
<rect x="806.6" y="576" width="488.8" height="358" fill="none" stroke="#000" stroke-width="4.6" />
<rect x="1486" y="882.48" width="97.8" height="52.92" fill="#f00" stroke="#000" stroke-width="1.2" />
<rect x="1583.8" y="869.02" width="98.5" height="66.38" fill="#00f" stroke="#000" stroke-width="1.2" />
<rect x="1730.6" y="880.68" width="98" height="54.72" fill="#f00" stroke="#000" stroke-width="1.2" />
<rect x="1828.6" y="677.06" width="98.1" height="258.34" fill="#00f" stroke="#000" stroke-width="1.2" />
<text x="1455" y="946.4" font-size="37.8" text-anchor="end" textLength="19.47" lengthAdjust="spacingAndGlyphs">0</text>
<line x1="1462" y1="845.7" x2="1469.4" y2="845.7" stroke="#000" stroke-width="4.6" />
<text x="1455" y="856.7" font-size="37.8" text-anchor="end" textLength="38.93" lengthAdjust="spacingAndGlyphs">10</text>
<line x1="1462" y1="756" x2="1469.4" y2="756" stroke="#000" stroke-width="4.6" />
<text x="1455" y="767" font-size="37.8" text-anchor="end" textLength="38.93" lengthAdjust="spacingAndGlyphs">20</text>
<line x1="1462" y1="666.3" x2="1469.4" y2="666.3" stroke="#000" stroke-width="4.6" />
<text x="1455" y="677.3" font-size="37.8" text-anchor="end" textLength="38.93" lengthAdjust="spacingAndGlyphs">30</text>
<text x="1455" y="587.6" font-size="37.8" text-anchor="end" textLength="38.93" lengthAdjust="spacingAndGlyphs">40</text>
<text x="1581.6" y="971.3" font-size="33.02" text-anchor="middle" textLength="17.24" lengthAdjust="spacingAndGlyphs">0</text>
<text x="1828.6" y="971.3" font-size="33.02" text-anchor="middle" textLength="43.09" lengthAdjust="spacingAndGlyphs">0.1</text>
<rect x="1462" y="576.6" width="489.1" height="358.8" fill="none" stroke="#000" stroke-width="4.6" />
<text x="216.7" y="1004.8" font-size="31.3">Conc. of Fe(CN)<tspan font-size="20.5" dy="6.6">6</tspan><tspan font-size="20.5" dy="-16.7">4- </tspan><tspan dy="10.1">(M)</tspan></text>
<text x="893.5" y="1004.8" font-size="31.3">Conc. of Fe(CN)<tspan font-size="20.5" dy="6.6">6</tspan><tspan font-size="20.5" dy="-16.7">4- </tspan><tspan dy="10.1">(M)</tspan></text>
<text x="1544.5" y="1004.8" font-size="31.3">Conc. of Fe(CN)<tspan font-size="20.5" dy="6.6">6</tspan><tspan font-size="20.5" dy="-16.7">4- </tspan><tspan dy="10.1">(M)</tspan></text>
<text x="1424.1" y="439.7" font-size="28" fill="#000">Fe(CN)<tspan font-size="19" dy="6.9">6</tspan><tspan font-size="19" dy="-15.7">4-</tspan><tspan dy="8.8"> 0 M</tspan></text>
<text x="1710.9" y="439.7" font-size="28" fill="#000">Fe(CN)<tspan font-size="19" dy="6.9">6</tspan><tspan font-size="19" dy="-15.7">4-</tspan><tspan dy="8.8"> 0.1 M</tspan></text>
<text transform="translate(54.2,762.2) rotate(-90)" font-size="31.5" text-anchor="middle">Conc. of tungstate (µg/L)</text>
<text transform="translate(734.8,757.6) rotate(-90)" font-size="31.5" text-anchor="middle">Transmittance (%)</text>
<text transform="translate(1386.9,756) rotate(-90)" font-size="31.5" text-anchor="middle">Response time (s)</text>
<rect x="813.9" y="593.8" width="8" height="8" fill="#f00" stroke="none" stroke-width="0" />
<rect x="813.9" y="624" width="8" height="7.5" fill="#00f" stroke="none" stroke-width="0" />
<text x="829" y="607" font-size="25.5" text-anchor="start" fill="#f00" >On</text>
<text x="829" y="637" font-size="25.5" text-anchor="start" fill="#00f" >Off</text>
<rect x="1469" y="592.6" width="8" height="8" fill="#f00" stroke="none" stroke-width="0" />
<rect x="1469" y="622.2" width="8" height="7.5" fill="#00f" stroke="none" stroke-width="0" />
<text x="1484" y="605" font-size="25.5" text-anchor="start" fill="#f00" >On</text>
<text x="1484" y="635" font-size="25.5" text-anchor="start" fill="#00f" >Off</text>
<text x="1180.3" y="603.6" font-size="25.5">@<tspan x="1213.2">λ</tspan><tspan x="1226.6" font-size="16.8" dy="6.9">656</tspan><tspan x="1261.2" font-size="16.8">nm</tspan></text>
</svg></body></html>
